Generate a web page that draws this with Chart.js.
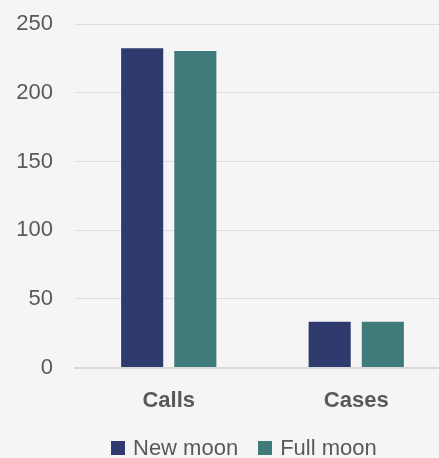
<!DOCTYPE html>
<html>
<head>
<meta charset="utf-8">
<script src="https://cdn.jsdelivr.net/npm/chart.js@4.4.1/dist/chart.umd.min.js"></script>
<style>
  html, body { margin: 0; padding: 0; background: #f5f5f5; overflow: hidden; }
  #wrap { position: relative; width: 484px; height: 440px; }
  #legend {
    position: absolute; left: 111px; top: 437px;
    display: flex; align-items: center;
    font-family: 'Liberation Sans', Arial, sans-serif; font-size: 22px; line-height: 22px; color: #595959;
  }
  #legend .item { display: flex; align-items: center; margin-right: 20px; }
  #legend .box { width: 14px; height: 14px; margin-right: 8px; }
</style>
</head>
<body>
<div id="wrap"><canvas id="moonChart"></canvas></div>
<div id="legend"></div>
<script>
// categories and series
const categories = ['Calls', 'Cases'];
const seriesNames = ['New moon', 'Full moon'];
const newMoon = [233, 34];
const fullMoon = [231, 34];
const yTicks = [0, 50, 100, 150, 200, 250];
const colors = ['#2f3b6e', '#3e7b7a'];

const FONT = "'Liberation Sans', Arial, sans-serif";
const TEXT = '#595959';

const ctx = document.getElementById('moonChart');
const chart = new Chart(ctx, {
  type: 'bar',
  data: {
    labels: categories,
    datasets: [
      { label: seriesNames[0], data: newMoon, backgroundColor: colors[0], borderColor: 'rgba(255,255,255,0.35)', borderWidth: 1 },
      { label: seriesNames[1], data: fullMoon, backgroundColor: colors[1], borderColor: 'rgba(255,255,255,0.35)', borderWidth: 1 }
    ]
  },
  options: {
    responsive: true,
    maintainAspectRatio: false,
    animation: false,
    layout: { padding: { left: 17, right: 34, top: 24, bottom: 6 } },
    datasets: { bar: { categoryPercentage: 0.567, barPercentage: 0.83 } },
    plugins: {
      tooltip: { enabled: false },
      legend: { display: false }
    },
    scales: {
      x: {
        grid: { display: false, drawTicks: false },
        border: { display: true, color: '#d9d9d9', width: 2 },
        ticks: { color: TEXT, padding: 20, font: { family: FONT, size: 22, weight: 'bold' } }
      },
      y: {
        min: 0,
        max: 250,
        afterBuildTicks: (axis) => { axis.ticks = yTicks.map(v => ({ value: v })); },
        afterFit: (axis) => { axis.width = 58; axis.paddingTop = 0; axis.paddingBottom = 0; },
        grid: { color: '#dcdcdc', lineWidth: 1, drawTicks: false },
        border: { display: false },
        ticks: { color: TEXT, padding: 22, font: { family: FONT, size: 22 } }
      }
    }
  }
});

// legend built from the datasets
const legend = document.getElementById('legend');
chart.data.datasets.forEach(ds => {
  const item = document.createElement('div');
  item.className = 'item';
  item.innerHTML = `<span class="box" style="background:${ds.backgroundColor}"></span><span>${ds.label}</span>`;
  legend.appendChild(item);
});
</script>
</body>
</html>
